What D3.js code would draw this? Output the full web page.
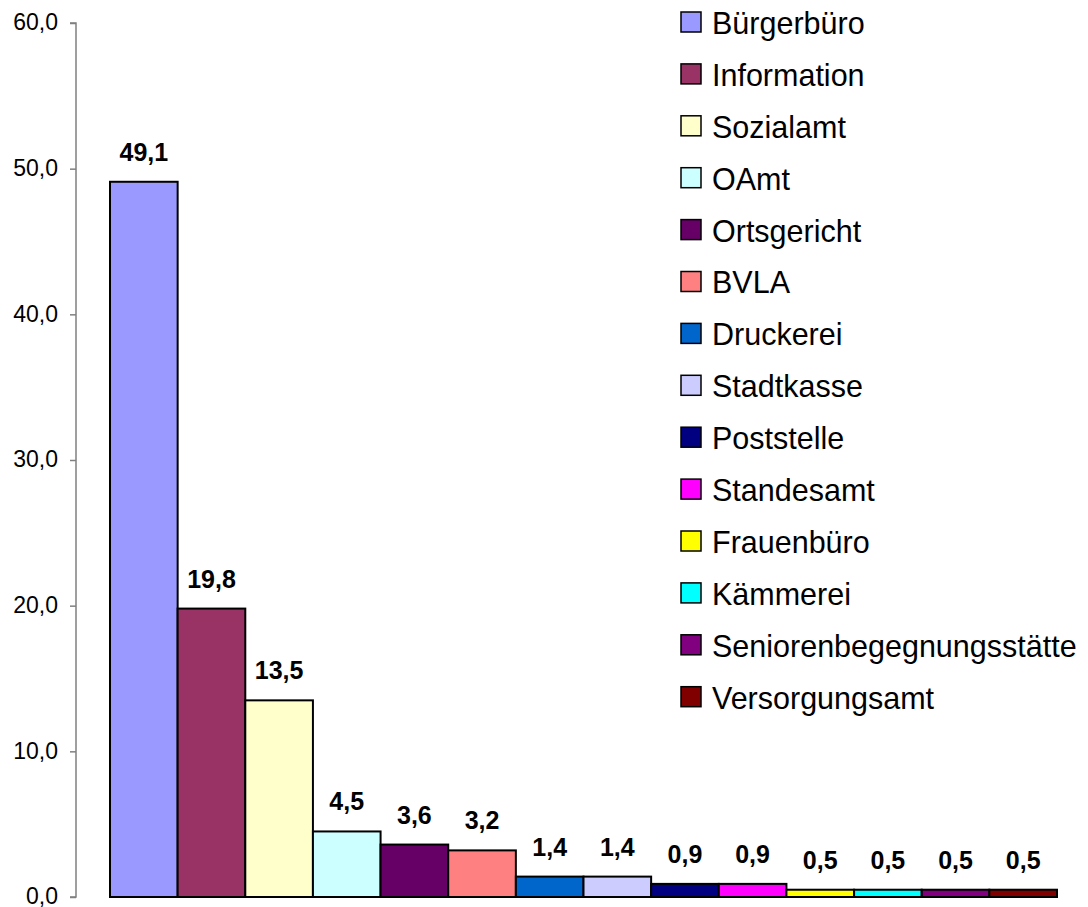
<!DOCTYPE html>
<html>
<head>
<meta charset="utf-8">
<script src="https://cdn.jsdelivr.net/npm/d3@7"></script>
<style>
  body { margin: 0; background: #fff; }
  svg { display: block; font-family: "Liberation Sans", Arial, sans-serif; }
</style>
</head>
<body>
<svg id="chart" width="1088" height="907"></svg>
<script>
const categories = [
  'Bürgerbüro', 'Information', 'Sozialamt', 'OAmt', 'Ortsgericht', 'BVLA',
  'Druckerei', 'Stadtkasse', 'Poststelle', 'Standesamt', 'Frauenbüro',
  'Kämmerei', 'Seniorenbegegnungsstätte', 'Versorgungsamt'
];
const values = [49.1, 19.8, 13.5, 4.5, 3.6, 3.2, 1.4, 1.4, 0.9, 0.9, 0.5, 0.5, 0.5, 0.5];
const yTicks = [0, 10, 20, 30, 40, 50, 60];

// Excel default series colours
const palette = [
  '#9999ff', '#993366', '#ffffcc', '#ccffff', '#660066', '#ff8080',
  '#0066cc', '#ccccff', '#000080', '#ff00ff', '#ffff00', '#00ffff',
  '#800080', '#800000'
];

const data = categories.map((name, i) => ({ name, value: values[i] }));

const locale = d3.formatLocale({ decimal: ',', thousands: '.', grouping: [3], currency: ['', ' €'] });
const fmt = locale.format('.1f');

const svg = d3.select('#chart');

const xScale = d3.scaleBand().domain(categories).range([110, 1057]).padding(0);
const yScale = d3.scaleLinear().domain([0, 60]).range([897, 23]);
const color = d3.scaleOrdinal().domain(categories).range(palette);

// y axis
const yAxis = svg.append('g')
  .attr('transform', 'translate(76,0)')
  .call(d3.axisLeft(yScale).tickValues(yTicks).tickFormat(fmt).tickSize(6).tickPadding(12));
yAxis.selectAll('path, line').attr('stroke', '#808080').attr('stroke-width', 1.5);
yAxis.select('.domain').attr('d', `M-6,${yScale(60)}H0V${yScale(0)}H-6`);
yAxis.selectAll('text')
  .attr('fill', '#000')
  .attr('dy', '0.3em')
  .style('font-size', '23px')
  .style('font-family', '"Liberation Sans", Arial, sans-serif');

// bars
svg.append('g')
  .selectAll('rect')
  .data(data)
  .enter()
  .append('rect')
  .attr('x', d => xScale(d.name))
  .attr('y', d => yScale(d.value))
  .attr('width', xScale.bandwidth())
  .attr('height', d => yScale(0) - yScale(d.value))
  .attr('fill', d => color(d.name))
  .attr('stroke', '#000')
  .attr('stroke-width', 2);

// value labels
svg.append('g')
  .selectAll('text')
  .data(data)
  .enter()
  .append('text')
  .attr('x', d => xScale(d.name) + xScale.bandwidth() / 2)
  .attr('y', d => yScale(d.value) - 21)
  .attr('text-anchor', 'middle')
  .style('font-size', '25px')
  .style('font-weight', 'bold')
  .text(d => fmt(d.value));

// legend
const legend = svg.append('g')
  .selectAll('g')
  .data(categories)
  .enter()
  .append('g')
  .attr('transform', (d, i) => `translate(681,${22 + i * 51.9})`);

legend.append('rect')
  .attr('x', 0)
  .attr('y', -10)
  .attr('width', 20)
  .attr('height', 20)
  .attr('fill', d => color(d))
  .attr('stroke', '#000')
  .attr('stroke-width', 1.5);

legend.append('text')
  .attr('x', 31)
  .attr('y', 1)
  .attr('dy', '0.36em')
  .style('font-size', '30.5px')
  .text(d => d);
</script>
</body>
</html>
